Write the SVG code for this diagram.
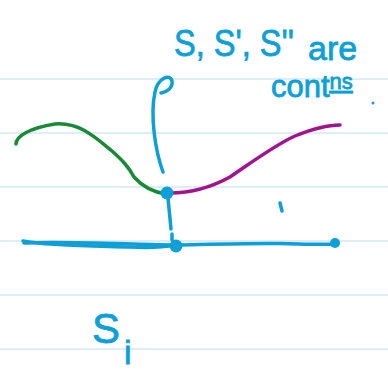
<svg xmlns="http://www.w3.org/2000/svg" width="388" height="373" viewBox="0 0 388 373">
<style>
.rule{stroke:#d3e9f7;stroke-width:1.5;fill:none}
.pen{fill:none;stroke-linecap:round;stroke-linejoin:round;stroke-width:3.5}
.blue{stroke:#0d9fd8}
.ink{fill:#0d9fd8;font-family:"Liberation Sans","DejaVu Sans",sans-serif;stroke:#0d9fd8;stroke-width:0.8}
</style>
<rect width="388" height="373" fill="#ffffff"/>
<g id="paper">
<line class="rule" x1="0" y1="79" x2="388" y2="79"/>
<line class="rule" x1="0" y1="133" x2="388" y2="133"/>
<line class="rule" x1="0" y1="187" x2="388" y2="187"/>
<line class="rule" x1="0" y1="241" x2="388" y2="241"/>
<line class="rule" x1="0" y1="295" x2="388" y2="295"/>
<line class="rule" x1="0" y1="349" x2="388" y2="349"/>
</g>
<g id="labels">
<text class="ink" x="174" y="56" font-size="37" textLength="120" lengthAdjust="spacingAndGlyphs">S, S', S''</text>
<text class="ink" x="308" y="60" font-size="34">are</text>
<text class="ink" x="271" y="97" font-size="31">cont<tspan font-size="22" dy="-8" text-decoration="underline">ns</tspan></text>
<circle cx="373" cy="103" r="1.5" fill="#0d9fd8"/>
<text class="ink" x="92" y="343" font-size="42">S</text>
<text class="ink" x="124" y="364" font-size="34">i</text>
</g>
<g id="connectors">
<path class="pen blue" d="M163,172 C155,150 150,115 155,92 C158,78 170,73 172,81 C173,88 167,92 161,93"/>
<path class="pen" stroke="#178a35" d="M16,144 C16,136 30,128 55,124 C80,122 96,138 112,151 C122,160 128,166 134,177 C142,186 152,192 166,194"/>
<path class="pen" stroke="#a3128f" d="M170,193 C190,193 210,188 230,177 C255,160 275,145 295,136 C315,128 328,125 340,125"/>
<path class="pen blue" d="M168,198 L171,229"/>
<path class="pen blue" d="M172,234 L172,240"/>
<path class="pen blue" d="M23,241 C50,246 100,246 130,247 C150,248 165,247 176,245"/>
<path class="pen blue" d="M24,243 C60,241 120,244 170,245"/>
<path class="pen blue" d="M176,245 C220,244 250,243 280,243.5 C305,244 320,245 335,244"/>
<path class="pen blue" stroke-width="2.5" d="M280,203 L282,211"/>
</g>
<g id="points" fill="#0d9fd8">
<circle id="top-dot" cx="167" cy="193" r="6.5"/>
<circle id="mid-dot" cx="176" cy="246" r="6.5"/>
<circle id="end-dot" cx="335" cy="243" r="5"/>
</g>
</svg>
